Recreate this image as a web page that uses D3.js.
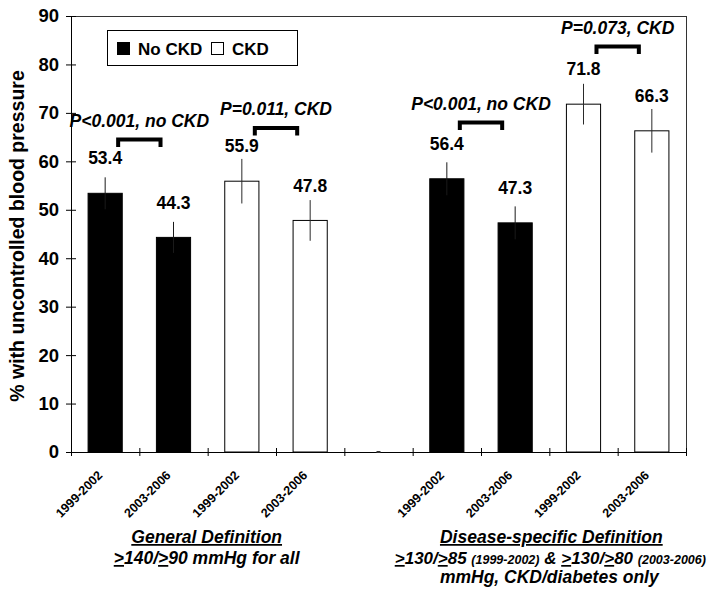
<!DOCTYPE html>
<html><head><meta charset="utf-8">
<script src="https://cdn.jsdelivr.net/npm/d3@7"></script>
<style>
body{margin:0;background:#fff}
svg{display:block}
text{font-family:'Liberation Sans',Arial,Helvetica,sans-serif;font-weight:bold;fill:#000}
</style>
</head><body>
<svg id="c" width="716" height="592"></svg>
<script>
// ---------- data ----------
const categories = ["1999-2002","2003-2006","1999-2002","2003-2006","","1999-2002","2003-2006","1999-2002","2003-2006"];
const groups     = ["No CKD","No CKD","CKD","CKD","","No CKD","No CKD","CKD","CKD"];
const values     = [53.4, 44.3, 55.9, 47.8, 0, 56.4, 47.3, 71.8, 66.3];
const errors     = [3.3, 3.2, 4.6, 4.2, 0, 3.4, 3.4, 4.2, 4.5];
const valueLabels= ["53.4","44.3","55.9","47.8","","56.4","47.3","71.8","66.3"];
const legendItems= ["No CKD","CKD"];
const pTexts     = ["P<0.001, no CKD","P=0.011, CKD","P<0.001, no CKD","P=0.073, CKD"];
const pPairs     = [[0,1],[2,3],[5,6],[7,8]];
const pLevels    = [64.5, 66.9, 68.0, 83.7];
const yTicks     = [0,10,20,30,40,50,60,70,80,90];
const yTitle     = "% with uncontrolled blood pressure";

// ---------- layout ----------
const svg = d3.select("#c");
const X0 = 71, X1 = 686, YT = 16, YB = 452;
const idx = d3.range(categories.length);
const x = d3.scaleBand().domain(idx).range([X0, X1]).paddingInner(0.5).paddingOuter(0.25);
const xEdge = d3.scaleLinear().domain([0, categories.length]).range([X0, X1]);
const y = d3.scaleLinear().domain([0, 90]).range([YB, YT]);
const FONT = "'Liberation Sans',Arial,sans-serif";

// frame
svg.append("rect").attr("x", X0).attr("y", YT).attr("width", X1 - X0).attr("height", YB - YT)
  .attr("fill", "none").attr("stroke", "#333").attr("stroke-width", 1).attr("shape-rendering", "crispEdges");

// y axis
const gy = svg.append("g").attr("transform", `translate(${X0},0)`)
  .call(d3.axisLeft(y).tickValues(yTicks).tickSize(5).tickPadding(7).tickSizeOuter(0));
gy.attr("font-family", FONT).attr("font-size", 18.5).attr("font-weight", "bold");
gy.select(".domain").attr("stroke", "#000");
gy.selectAll(".tick line").attr("x1", 5).attr("stroke", "#000");
gy.selectAll(".tick text").attr("fill", "#000");

// x axis
const gx = svg.append("g").attr("transform", `translate(0,${YB})`)
  .call(d3.axisBottom(xEdge).tickValues(d3.range(categories.length + 1)).tickSize(4).tickSizeOuter(0).tickFormat(""));
gx.select(".domain").attr("stroke", "#000");
gx.selectAll(".tick line").attr("y1", -4).attr("stroke", "#000");

// x tick labels
svg.append("g").selectAll("text").data(idx.filter(i => categories[i] !== "")).join("text")
  .attr("transform", i => `translate(${x(i) + x.bandwidth() / 2 - 2},${YB + 24}) rotate(-45)`)
  .attr("text-anchor", "end").attr("font-size", 12.5).text(i => categories[i]);

// bars
svg.append("g").selectAll("rect").data(idx.filter(i => values[i] > 0)).join("rect")
  .attr("x", i => x(i)).attr("width", x.bandwidth())
  .attr("y", i => y(values[i])).attr("height", i => y(0) - y(values[i]))
  .attr("fill", i => groups[i] === "No CKD" ? "#000" : "#fff")
  .attr("stroke", "#000").attr("stroke-width", 1);

// zero bar marker
svg.append("g").selectAll("line").data(idx.filter(i => values[i] === 0)).join("line")
  .attr("x1", i => x(i) + x.bandwidth() / 2 - 2).attr("x2", i => x(i) + x.bandwidth() / 2 + 2)
  .attr("y1", y(0)).attr("y2", y(0)).attr("stroke", "#333").attr("stroke-width", 2);

// error bars
svg.append("g").selectAll("line").data(idx.filter(i => values[i] > 0)).join("line")
  .attr("x1", i => x(i) + x.bandwidth() / 2).attr("x2", i => x(i) + x.bandwidth() / 2)
  .attr("y1", i => y(values[i] - errors[i])).attr("y2", i => y(values[i] + errors[i]))
  .attr("stroke", i => groups[i] === "No CKD" ? "#1a1a1a" : "#2a2a2a").attr("stroke-width", 1);

// value labels
svg.append("g").selectAll("text").data(idx.filter(i => valueLabels[i] !== "")).join("text")
  .attr("x", i => x(i) + x.bandwidth() / 2).attr("y", i => y(values[i] + 7.2) + 6)
  .attr("text-anchor", "middle").attr("font-size", 17.5).text(i => valueLabels[i]);

// p-value brackets
const half = 0.31 * x.step();
pPairs.forEach((pr, k) => {
  const mid = (x(pr[0]) + x(pr[1])) / 2 + x.bandwidth() / 2;
  const ly = y(pLevels[k]);
  svg.append("path")
    .attr("d", `M${mid - half},${ly + 7.5}V${ly}H${mid + half}V${ly + 7.5}`)
    .attr("fill", "none").attr("stroke", "#000").attr("stroke-width", 4)
    .attr("stroke-linejoin", "miter").attr("stroke-linecap", "butt");
  svg.append("text").attr("x", mid).attr("y", ly - 12.5)
    .attr("text-anchor", "middle").attr("font-size", 17.5).attr("font-style", "italic")
    .text(pTexts[k]);
});

// legend
const lg = svg.append("g");
lg.append("rect").attr("x", 107.5).attr("y", 30.5).attr("width", 190).attr("height", 35)
  .attr("fill", "#fff").attr("stroke", "#000").attr("stroke-width", 1);
const legX = [117, 211];
legendItems.forEach((name, k) => {
  lg.append("rect").attr("x", legX[k] + 0.5).attr("y", 42.5).attr("width", 12).attr("height", 12)
    .attr("fill", name === "No CKD" ? "#000" : "#fff").attr("stroke", "#000").attr("stroke-width", 1);
  lg.append("text").attr("x", legX[k] + 21).attr("y", 55).attr("font-size", 17).text(name);
});

// y title
svg.append("text").attr("transform", `translate(24,${(YT + YB) / 2 + 2}) rotate(-90)`)
  .attr("text-anchor", "middle").attr("font-size", 19.5).text(yTitle);

// group titles
const leftC = (xEdge(0) + xEdge(4)) / 2;
const rightC = (xEdge(5) + xEdge(9)) / 2;
svg.append("text").attr("x", leftC - 1).attr("y", 543).attr("text-anchor", "middle")
  .attr("font-size", 17.5).attr("font-style", "italic").attr("text-decoration", "underline")
  .text("General Definition");
const t2 = svg.append("text").attr("x", leftC - 1).attr("y", 564).attr("text-anchor", "middle")
  .attr("font-size", 17.5).attr("font-style", "italic");
t2.append("tspan").attr("text-decoration", "underline").text(">");
t2.append("tspan").text("140/");
t2.append("tspan").attr("text-decoration", "underline").text(">");
t2.append("tspan").text("90 mmHg for all");

svg.append("text").attr("x", rightC + 2).attr("y", 543).attr("text-anchor", "middle")
  .attr("font-size", 17.5).attr("font-style", "italic").attr("text-decoration", "underline")
  .text("Disease-specific Definition");
const r2 = svg.append("text").attr("x", rightC + 1).attr("y", 564).attr("text-anchor", "middle")
  .attr("font-size", 17).attr("font-style", "italic");
r2.append("tspan").attr("text-decoration", "underline").text(">");
r2.append("tspan").text("130/");
r2.append("tspan").attr("text-decoration", "underline").text(">");
r2.append("tspan").text("85 ");
r2.append("tspan").attr("font-size", 12.5).text("(1999-2002)");
r2.append("tspan").text(" & ");
r2.append("tspan").attr("text-decoration", "underline").text(">");
r2.append("tspan").text("130/");
r2.append("tspan").attr("text-decoration", "underline").text(">");
r2.append("tspan").text("80 ");
r2.append("tspan").attr("font-size", 12.5).text("(2003-2006)");
svg.append("text").attr("x", rightC).attr("y", 583).attr("text-anchor", "middle")
  .attr("font-size", 17.5).attr("font-style", "italic").text("mmHg, CKD/diabetes only");
</script>
</body></html>
